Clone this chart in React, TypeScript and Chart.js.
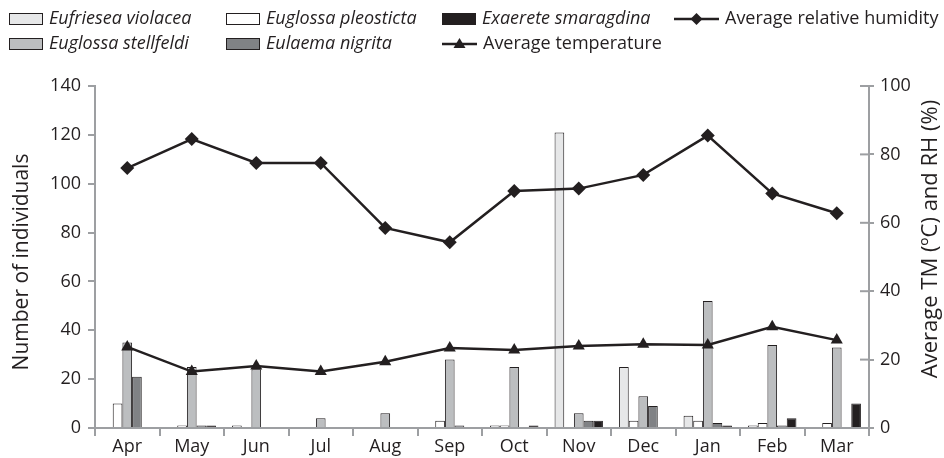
import React, { useEffect, useRef } from 'react';
import { Chart, registerables } from 'chart.js';

Chart.register(...registerables);

const months = ['Apr', 'May', 'Jun', 'Jul', 'Aug', 'Sep', 'Oct', 'Nov', 'Dec', 'Jan', 'Feb', 'Mar'];
const eufrieseaViolacea = [0, 0, 1, 0, 0, 0, 1, 121, 25, 5, 1, 0];
const euglossaPleosticta = [10, 1, 0, 0, 0, 3, 1, 0, 3, 3, 2, 2];
const euglossaStellfeldi = [35, 25, 24, 4, 6, 28, 25, 6, 13, 52, 34, 33];
const eulaemaNigrita = [21, 1, 0, 0, 0, 1, 0, 3, 9, 2, 1, 0];
const exaereteSmaragdina = [0, 1, 0, 0, 0, 0, 1, 3, 0, 1, 4, 10];
const avgHumidity = [76, 84.5, 77.5, 77.5, 58.5, 54.3, 69.3, 70, 74, 85.5, 68.6, 62.8];
const avgTemperature = [23.7, 16.5, 18.1, 16.5, 19.4, 23.4, 22.8, 24, 24.5, 24.3, 29.6, 25.7];

const leftMax = 140;
const rightMax = 100;
const tickStep = 20;

const FONT = '"Open Sans", sans-serif';
const TEXT = '#231f20';
const AXIS = '#9d9fa2';
const INK = '#231f20';

const colViolacea = '#e6e7e8';
const colPleosticta = '#ffffff';
const colStellfeldi = '#bcbec0';
const colNigrita = '#808285';
const colSmaragdina = '#231f20';

const overlay = {
  id: 'overlay',
  afterDraw(chart: any) {
    const { ctx, chartArea } = chart;
    const y1 = chart.scales.y1;
    ctx.save();
    // inner tick marks on right axis
    ctx.strokeStyle = AXIS;
    ctx.lineWidth = 2;
    y1.ticks.forEach((_t: any, i: number) => {
      const y = y1.getPixelForTick(i);
      ctx.beginPath();
      ctx.moveTo(chartArea.right - 9, y);
      ctx.lineTo(chartArea.right, y);
      ctx.stroke();
    });

    // axis titles
    ctx.fillStyle = TEXT;
    ctx.textAlign = 'center';
    ctx.textBaseline = 'middle';
    ctx.font = `21px ${FONT}`;
    ctx.save();
    ctx.translate(22, 262);
    ctx.rotate(-Math.PI / 2);
    ctx.fillText('Number of individuals', 0, 0);
    ctx.restore();
    ctx.save();
    ctx.font = `22px ${FONT}`;
    ctx.translate(931, 239);
    ctx.rotate(-Math.PI / 2);
    ctx.fillText('Average TM (ºC) and RH (%)', 0, 0);
    ctx.restore();

    // legend
    const rows = [19, 44];
    const boxes = [
      { x: 9, row: 0, fill: colViolacea, label: 'Eufriesea violacea' },
      { x: 226, row: 0, fill: colPleosticta, label: 'Euglossa pleosticta' },
      { x: 442, row: 0, fill: colSmaragdina, label: 'Exaerete smaragdina' },
      { x: 9, row: 1, fill: colStellfeldi, label: 'Euglossa stellfeldi' },
      { x: 226, row: 1, fill: colNigrita, label: 'Eulaema nigrita' },
    ];
    ctx.textAlign = 'left';
    boxes.forEach((b) => {
      const cy = rows[b.row];
      ctx.fillStyle = b.fill;
      ctx.fillRect(b.x, cy - 6, 34, 12);
      ctx.strokeStyle = INK;
      ctx.lineWidth = 1;
      ctx.strokeRect(b.x + 0.5, cy - 5.5, 33, 11);
      ctx.fillStyle = TEXT;
      ctx.font = `italic 18px ${FONT}`;
      ctx.fillText(b.label, b.x + 40, cy);
    });
    const lines = [
      { x: 674, row: 0, marker: 'diamond', label: 'Average relative humidity', tx: 725 },
      { x: 442, row: 1, marker: 'triangle', label: 'Average temperature', tx: 483 },
    ];
    lines.forEach((l) => {
      const cy = rows[l.row];
      const w = l.tx - l.x - 6;
      ctx.strokeStyle = INK;
      ctx.lineWidth = 2.5;
      ctx.beginPath();
      ctx.moveTo(l.x, cy);
      ctx.lineTo(l.x + w, cy);
      ctx.stroke();
      const mx = l.x + w / 2;
      ctx.fillStyle = INK;
      ctx.beginPath();
      if (l.marker === 'diamond') {
        ctx.moveTo(mx, cy - 6);
        ctx.lineTo(mx + 6, cy);
        ctx.lineTo(mx, cy + 6);
        ctx.lineTo(mx - 6, cy);
      } else {
        ctx.moveTo(mx, cy - 6);
        ctx.lineTo(mx + 6, cy + 4);
        ctx.lineTo(mx - 6, cy + 4);
      }
      ctx.closePath();
      ctx.fill();
      ctx.fillStyle = TEXT;
      ctx.font = `18px ${FONT}`;
      ctx.fillText(l.label, l.tx, cy);
    });
    ctx.restore();
  },
};

export default function App() {
  const ref = useRef<HTMLCanvasElement>(null);
  useEffect(() => {
    document.body.style.margin = '0';
    const canvas = ref.current!;
    const barBase = {
      type: 'bar' as const,
      borderColor: INK,
      borderWidth: 1,
      borderSkipped: 'start' as const,
      yAxisID: 'y',
      categoryPercentage: 0.75,
      barPercentage: 1.0,
      order: 2,
    };
    const chart = new Chart(canvas, {
      type: 'bar',
      data: {
        labels: months,
        datasets: [
          { ...barBase, label: 'Eufriesea violacea', data: eufrieseaViolacea, backgroundColor: colViolacea },
          { ...barBase, label: 'Euglossa pleosticta', data: euglossaPleosticta, backgroundColor: colPleosticta },
          { ...barBase, label: 'Euglossa stellfeldi', data: euglossaStellfeldi, backgroundColor: colStellfeldi },
          { ...barBase, label: 'Eulaema nigrita', data: eulaemaNigrita, backgroundColor: colNigrita },
          { ...barBase, label: 'Exaerete smaragdina', data: exaereteSmaragdina, backgroundColor: colSmaragdina },
          {
            type: 'line' as const,
            label: 'Average relative humidity',
            data: avgHumidity,
            yAxisID: 'y1',
            borderColor: INK,
            borderWidth: 2.5,
            backgroundColor: INK,
            pointStyle: 'rectRot',
            pointRadius: 7,
            pointBorderWidth: 0,
            tension: 0,
            order: 0,
          },
          {
            type: 'line' as const,
            label: 'Average temperature',
            data: avgTemperature,
            yAxisID: 'y1',
            borderColor: INK,
            borderWidth: 2.5,
            backgroundColor: INK,
            pointStyle: 'triangle',
            pointRadius: 7,
            pointBorderWidth: 0,
            tension: 0,
            order: 0,
          },
        ] as any,
      },
      options: {
        animation: false,
        responsive: false,
        devicePixelRatio: 1,
        layout: { padding: { top: 86, left: 0, right: 0, bottom: 0 } },
        plugins: { legend: { display: false }, tooltip: { enabled: false } },
        scales: {
          x: {
            offset: true,
            grid: { offset: true, drawOnChartArea: false, drawTicks: true, tickLength: 8, color: AXIS, lineWidth: 2 },
            border: { color: AXIS, width: 2 },
            ticks: { color: TEXT, font: { family: FONT, size: 18 }, padding: 0, maxRotation: 0 },
            afterFit: (s: any) => { s.height = 30; },
          },
          y: {
            position: 'left',
            min: 0,
            max: leftMax,
            ticks: { stepSize: tickStep, color: TEXT, font: { family: FONT, size: 18 }, padding: 7 },
            grid: { drawOnChartArea: false, tickLength: 7, color: AXIS, lineWidth: 2 },
            border: { color: AXIS, width: 2 },
            afterFit: (s: any) => { s.width = 95; },
          },
          y1: {
            position: 'right',
            min: 0,
            max: rightMax,
            ticks: { stepSize: tickStep, color: TEXT, font: { family: FONT, size: 18 }, padding: 6 },
            grid: { drawOnChartArea: false, tickLength: 5, color: AXIS, lineWidth: 2 },
            border: { color: AXIS, width: 2 },
            afterFit: (s: any) => { s.width = 75; },
          },
        },
      },
      plugins: [overlay],
    });
    return () => chart.destroy();
  }, []);
  return <canvas ref={ref} width={944} height={458} style={{ display: 'block' }} />;
}
